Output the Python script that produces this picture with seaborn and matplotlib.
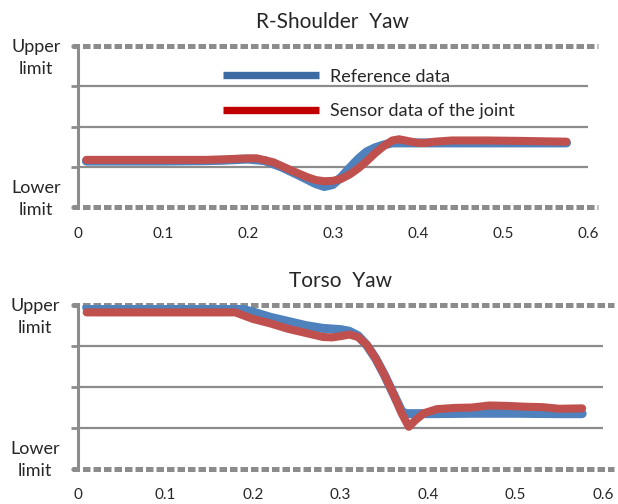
import numpy as np
import pandas as pd
import matplotlib
matplotlib.use("Agg")
import matplotlib.pyplot as plt
import seaborn as sns
from matplotlib.lines import Line2D

# R-Shoulder Yaw (0 = lower limit, 4 = upper limit)
shoulder_ref_t = [0.01, 0.05, 0.10, 0.15, 0.17, 0.20, 0.22, 0.24, 0.26, 0.28, 0.29, 0.30,
                  0.31, 0.32, 0.33, 0.34, 0.35, 0.36, 0.37, 0.40, 0.45, 0.50, 0.55, 0.575]
shoulder_ref_v = [1.15, 1.15, 1.15, 1.16, 1.17, 1.20, 1.16, 1.00, 0.80, 0.59, 0.52, 0.57,
                  0.75, 0.98, 1.20, 1.38, 1.48, 1.55, 1.60, 1.60, 1.60, 1.60, 1.60, 1.60]
shoulder_sen_t = [0.01, 0.05, 0.10, 0.15, 0.17, 0.19, 0.21, 0.23, 0.25, 0.27, 0.28, 0.29,
                  0.30, 0.31, 0.32, 0.33, 0.34, 0.35, 0.36, 0.37, 0.378, 0.39, 0.40, 0.41,
                  0.42, 0.44, 0.48, 0.52, 0.575]
shoulder_sen_v = [1.18, 1.18, 1.18, 1.18, 1.19, 1.21, 1.22, 1.12, 0.93, 0.75, 0.68, 0.65,
                  0.66, 0.71, 0.82, 0.97, 1.15, 1.35, 1.52, 1.66, 1.69, 1.64, 1.60, 1.60,
                  1.63, 1.66, 1.66, 1.65, 1.63]

# Torso Yaw
torso_ref_t = [0.01, 0.10, 0.18, 0.20, 0.22, 0.24, 0.26, 0.28, 0.30, 0.31, 0.32, 0.33,
               0.34, 0.35, 0.36, 0.37, 0.375, 0.40, 0.45, 0.50, 0.55, 0.576]
torso_ref_v = [3.94, 3.94, 3.94, 3.83, 3.70, 3.60, 3.50, 3.43, 3.40, 3.36, 3.25, 3.02,
               2.70, 2.30, 1.85, 1.40, 1.35, 1.35, 1.36, 1.36, 1.35, 1.35]
torso_sen_t = [0.01, 0.10, 0.18, 0.20, 0.22, 0.24, 0.26, 0.28, 0.29, 0.30, 0.31, 0.32,
               0.33, 0.34, 0.35, 0.36, 0.37, 0.378, 0.385, 0.395, 0.41, 0.43, 0.45, 0.47,
               0.49, 0.51, 0.53, 0.55, 0.576]
torso_sen_v = [3.82, 3.82, 3.82, 3.66, 3.55, 3.42, 3.32, 3.22, 3.21, 3.24, 3.28, 3.22,
               3.03, 2.70, 2.30, 1.85, 1.35, 1.03, 1.18, 1.36, 1.46, 1.49, 1.50, 1.55,
               1.54, 1.52, 1.51, 1.47, 1.48]

x_ticks = [0, 0.1, 0.2, 0.3, 0.4, 0.5, 0.6]
series_names = ["Reference data", "Sensor data of the joint"]

sns.set_theme(style="white")
plt.rcParams["font.family"] = ["Lato", "DejaVu Sans"]

blue = "#4F81BD"
red = "#C0504D"
grid_col = "#8C8C8C"

fig = plt.figure(figsize=(6.18, 5.04), dpi=100)
ax1 = fig.add_axes([0.126, 0.5883, 0.825, 0.3204])
ax2 = fig.add_axes([0.126, 0.0694, 0.850, 0.3254])


def make_df(ref_t, ref_v, sen_t, sen_v):
    return pd.concat([
        pd.DataFrame({"t": ref_t, "v": ref_v, "series": series_names[0]}),
        pd.DataFrame({"t": sen_t, "v": sen_v, "series": series_names[1]}),
    ])


def style_panel(ax, title):
    ax.set_xlim(0, 0.6)
    ax.set_ylim(0, 4)
    for y in [1, 2, 3]:
        ax.axhline(y, color=grid_col, lw=1.6, zorder=1)
    for y in [0, 4]:
        ax.axhline(y, xmin=-0.012, xmax=1.02, color=grid_col, lw=3.6,
                   dashes=(1.5, 0.6), clip_on=False, zorder=1)
    for s in ["top", "right", "bottom"]:
        ax.spines[s].set_visible(False)
    ax.spines["left"].set_color(grid_col)
    ax.spines["left"].set_linewidth(2.2)
    ax.set_yticks([0, 1, 2, 3, 4])
    ax.set_yticklabels([])
    ax.tick_params(axis="y", left=True, length=5, width=2, color=grid_col, direction="out")
    ax.set_xticks(x_ticks)
    ax.set_xticklabels(["0", "0.1", "0.2", "0.3", "0.4", "0.5", "0.6"], fontsize=11)
    ax.tick_params(axis="x", bottom=False, pad=8)
    ax.set_xlabel("")
    ax.set_ylabel("")
    ax.text(-0.082, 3.71, "Upper\nlimit", ha="center", va="center", fontsize=13,
            linespacing=1.45, transform=ax.get_yaxis_transform())
    ax.text(-0.082, 0.21, "Lower\nlimit", ha="center", va="center", fontsize=13,
            linespacing=1.45, transform=ax.get_yaxis_transform())
    ax.set_title(title, fontsize=15, pad=13)


df1 = make_df(shoulder_ref_t, shoulder_ref_v, shoulder_sen_t, shoulder_sen_v)
df2 = make_df(torso_ref_t, torso_ref_v, torso_sen_t, torso_sen_v)

for ax, df in [(ax1, df1), (ax2, df2)]:
    sns.lineplot(data=df[df.series == series_names[0]], x="t", y="v", color=blue,
                 lw=6.5, ax=ax, legend=False, zorder=3, solid_capstyle="round",
                 solid_joinstyle="round")
    sns.lineplot(data=df[df.series == series_names[1]], x="t", y="v", color=red,
                 lw=5.8, ax=ax, legend=False, zorder=4, solid_capstyle="round",
                 solid_joinstyle="round")

style_panel(ax1, "R-Shoulder  Yaw")
style_panel(ax2, "Torso  Yaw")

handles = [Line2D([], [], color="#3C6AA3", lw=5.3, solid_capstyle="butt"),
           Line2D([], [], color="#C00000", lw=5.3, solid_capstyle="butt")]
ax1.legend(handles, series_names, loc="upper left", bbox_to_anchor=(0.361, 0.864),
           bbox_transform=fig.transFigure, frameon=False, fontsize=13,
           handlelength=5.3, handletextpad=0.6, labelspacing=1.03,
           borderpad=0, borderaxespad=0)

fig.savefig("out.png", dpi=100)
